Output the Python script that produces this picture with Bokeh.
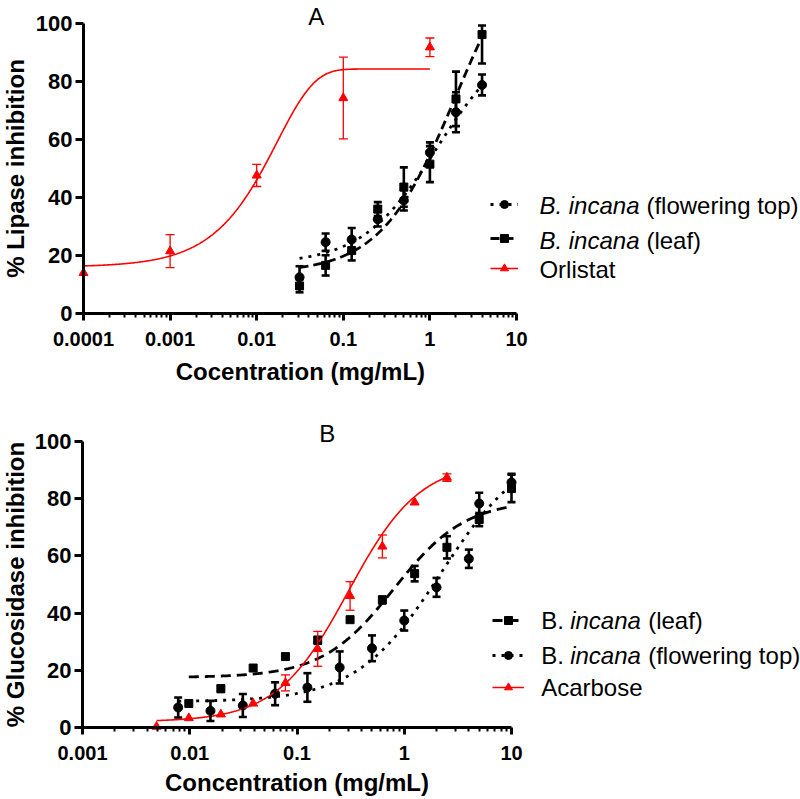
import numpy as np
from bokeh.plotting import figure
from bokeh.models import (ColumnDataSource, Whisker, TeeHead, Label, Legend, LegendItem,
                          FixedTicker, CustomJSTickFormatter, Range1d)
from bokeh.layouts import column
from bokeh.embed import file_html
from bokeh.resources import INLINE

FONT = "Liberation Sans"
RED = "#ff0000"
BLACK = "#000000"

# ---------------- shared ----------------
y_ticks = [0, 20, 40, 60, 80, 100]

# ---------------- Panel A : lipase ----------------
a_x_ticks = [0.0001, 0.001, 0.01, 0.1, 1, 10]

a_orl_x = [0.0001, 0.001, 0.01, 0.1, 1]
a_orl_y = [14.0, 21.5, 47.6, 74.3, 91.8]
a_orl_err = [0.0, 5.7, 3.8, 14.1, 3.2]

a_flw_x = [0.03125, 0.0625, 0.125, 0.25, 0.5, 1, 2, 4]
a_flw_y = [12.5, 24.6, 25.5, 32.5, 39.0, 55.5, 69.4, 78.8]
a_flw_err = [3.8, 3.0, 4.0, 2.5, 3.5, 3.5, 6.9, 3.6]

a_leaf_x = [0.03125, 0.0625, 0.125, 0.25, 0.5, 1, 2, 4]
a_leaf_y = [9.5, 16.6, 21.7, 36.0, 43.6, 51.5, 74.0, 96.2]
a_leaf_err_lo = [2.2, 3.5, 3.4, 2.4, 6.8, 6.2, 9.4, 10.0]
a_leaf_err_hi = [2.2, 3.5, 3.4, 2.4, 6.8, 6.2, 9.4, 3.1]

# fitted curves
a_orl_fit = (16.0, 84.3, 58.0)          # bottom, plateau, rate (one-phase association)
a_orl_span = (0.0001, 1.0)
a_flw_fit = (17.0, 97.0, 1.2, 1.0)      # bottom, top, EC50, Hill slope
a_flw_span = (0.03125, 4.0)
a_leaf_fit = (14.0, 136.0, 2.0, 1.0)
a_leaf_span = (0.03125, 4.0)

# ---------------- Panel B : glucosidase ----------------
b_x_ticks = [0.001, 0.01, 0.1, 1, 10]

b_leaf_x = [0.0098, 0.0195, 0.039, 0.078, 0.156, 0.3125, 0.625, 1.25, 2.5, 5, 10]
b_leaf_y = [8.4, 13.6, 20.8, 24.8, 30.5, 37.7, 44.6, 53.8, 63.0, 72.7, 83.6]
b_leaf_err = [0.0, 1.2, 0.0, 0.0, 1.2, 0.0, 1.2, 2.7, 3.9, 2.3, 4.8]

b_flw_x = [0.0078, 0.0156, 0.03125, 0.0625, 0.125, 0.25, 0.5, 1, 2, 4, 5, 10]
b_flw_y = [7.0, 5.8, 7.7, 11.8, 14.0, 21.0, 27.7, 37.4, 49.0, 59.0, 78.3, 85.7]
b_flw_err = [3.5, 3.5, 4.0, 4.0, 5.0, 5.6, 4.5, 3.5, 3.3, 3.2, 3.8, 3.0]

b_aca_x = [0.0049, 0.0098, 0.0195, 0.039, 0.078, 0.156, 0.3125, 0.625, 1.25, 2.5]
b_aca_y = [0.3, 3.3, 4.6, 8.4, 15.6, 27.5, 46.0, 63.3, 78.7, 87.4]
b_aca_err = [0.0, 0.0, 0.0, 0.0, 2.8, 6.1, 5.0, 4.0, 0.0, 1.3]

b_leaf_fit = (17.5, 79.5, 0.8, 1.3)
b_leaf_span = (0.0098, 10.0)
b_flw_fit = (9.0, 99.0, 2.2, 1.1)
b_flw_span = (0.0078, 10.0)
b_aca_fit = (2.0, 93.0, 0.30, 1.3)
b_aca_span = (0.0049, 2.5)


def hill(params, span):
    b, t, ec50, h = params
    xs = np.logspace(np.log10(span[0]), np.log10(span[1]), 400)
    return xs, b + (t - b) / (1.0 + (ec50 / xs) ** h)


def assoc(params, span):
    b, plateau, k = params
    xs = np.logspace(np.log10(span[0]), np.log10(span[1]), 400)
    return xs, b + (plateau - b) * (1.0 - np.exp(-k * xs))


def minor_list(lo_exp, hi_exp):
    return [m * 10.0 ** e for e in range(lo_exp, hi_exp) for m in range(2, 10)]


def make_fig(height, xr, yr, ticks, minors, xbounds):
    # the frame fills the whole canvas; the axes sit at fixed data locations
    p = figure(width=800, height=height, x_axis_type="log",
               x_range=Range1d(*xr), y_range=Range1d(*yr),
               output_backend="svg", toolbar_location=None,
               min_border_left=0, min_border_right=0,
               min_border_top=0, min_border_bottom=0)
    p.outline_line_color = None
    p.grid.visible = False
    p.background_fill_color = "white"
    p.border_fill_color = "white"
    for ax in (p.xaxis[0], p.yaxis[0]):
        ax.axis_line_width = 3
        ax.axis_line_color = BLACK
        ax.major_tick_line_width = 3
        ax.major_tick_line_color = BLACK
        ax.major_tick_in = 0
        ax.major_label_text_font = FONT
        ax.major_label_text_font_style = "bold"
        ax.major_label_text_color = BLACK
    xa = p.xaxis[0]
    xa.fixed_location = 0
    xa.bounds = xbounds
    xa.ticker = FixedTicker(ticks=ticks, minor_ticks=minors)
    xa.formatter = CustomJSTickFormatter(
        code="return tick >= 1 ? tick.toFixed(0) : tick.toPrecision(1);")
    xa.major_tick_out = 7
    xa.minor_tick_out = 4
    xa.minor_tick_in = 0
    xa.minor_tick_line_width = 2
    xa.minor_tick_line_color = BLACK
    xa.major_label_text_font_size = "20px"
    xa.major_label_standoff = 11
    ya = p.yaxis[0]
    ya.fixed_location = xbounds[0]
    ya.bounds = (0, 100)
    ya.ticker = FixedTicker(ticks=y_ticks, minor_ticks=[])
    ya.major_tick_out = 8
    ya.minor_tick_line_color = None
    ya.major_label_text_font_size = "22px"
    ya.major_label_standoff = 3
    return p


def add_series(p, xs, ys, lo, hi, curve, marker, size, color, dash, lw, err_w, cap):
    cx, cy = curve
    line = p.line(cx, cy, line_color=color, line_width=lw, line_dash=dash)
    keep = [i for i in range(len(xs)) if lo[i] > 0 or hi[i] > 0]
    src = ColumnDataSource(dict(x=[xs[i] for i in keep],
                                lower=[ys[i] - lo[i] for i in keep],
                                upper=[ys[i] + hi[i] for i in keep]))
    wk = Whisker(source=src, base="x", lower="lower", upper="upper", dimension="height",
                 line_color=color, line_width=err_w, level="glyph",
                 lower_head=TeeHead(size=cap, line_color=color, line_width=err_w),
                 upper_head=TeeHead(size=cap, line_color=color, line_width=err_w))
    p.add_layout(wk)
    sc = p.scatter(xs, ys, marker=marker, size=size, fill_color=color, line_color=color)
    return line, sc


def add_legend_row(p, renderers, loc, gw):
    leg = Legend(items=[LegendItem(label=" ", renderers=list(renderers))],
                 location=loc, orientation="vertical", padding=0, margin=0, spacing=0,
                 glyph_width=gw, glyph_height=20, label_standoff=0, label_width=0,
                 label_height=20, label_text_font_size="1px",
                 border_line_color=None, background_fill_alpha=0)
    p.add_layout(leg)


def txt(p, x, y, text, size="24px", style="normal", align="left", angle=0.0, xoff=0):
    p.add_layout(Label(x=x, y=y, text=text, text_font=FONT, text_font_size=size,
                       text_font_style=style, text_color=BLACK, text_align=align,
                       text_baseline="alphabetic", angle=angle, x_offset=xoff))


# ---------------- build panel A ----------------
pa = make_fig(392, (10 ** -4.9584, 10 ** 4.2794), (-27.24, 107.93),
              a_x_ticks, minor_list(-4, 1), (0.0001, 10))

fl_a = add_series(pa, a_flw_x, a_flw_y, a_flw_err, a_flw_err, hill(a_flw_fit, a_flw_span),
                  "circle", 9, BLACK, "3 6", 2.8, 2.6, 8)
lf_a = add_series(pa, a_leaf_x, a_leaf_y, a_leaf_err_lo, a_leaf_err_hi,
                  hill(a_leaf_fit, a_leaf_span), "square", 8, BLACK, "9 5", 2.8, 2.6, 8)
or_a = add_series(pa, a_orl_x, a_orl_y, a_orl_err, a_orl_err, assoc(a_orl_fit, a_orl_span),
                  "triangle", 9, RED, "solid", 1.6, 1.3, 9)

add_legend_row(pa, fl_a, (490, 178), 28)
add_legend_row(pa, lf_a, (490, 144), 28)
add_legend_row(pa, or_a, (490, 114), 28)

txt(pa, 18.4, 37.2, "B. incana", style="italic")
txt(pa, 18.4, 37.2, "(flowering top)", xoff=107)
txt(pa, 18.4, 25.3, "B. incana", style="italic")
txt(pa, 18.4, 25.3, "(leaf)", xoff=107)
txt(pa, 18.4, 15.3, "Orlistat")

txt(pa, 0.0488, 102.5, "A", align="center")
txt(pa, 0.032, -20.0, "Cocentration (mg/mL)", style="bold", align="center")
txt(pa, 1.65e-5, 50, "% Lipase inhibition", style="bold", align="center", angle=np.pi / 2)

# ---------------- build panel B ----------------
pb = make_fig(407, (10 ** -3.7646, 10 ** 3.6946), (-25.17, 117.13),
              b_x_ticks, minor_list(-3, 1), (0.001, 10))

lf_b = add_series(pb, b_leaf_x, b_leaf_y, b_leaf_err, b_leaf_err, hill(b_leaf_fit, b_leaf_span),
                  "square", 8, BLACK, "10 6", 2.8, 2.6, 8)
fl_b = add_series(pb, b_flw_x, b_flw_y, b_flw_err, b_flw_err, hill(b_flw_fit, b_flw_span),
                  "circle", 9, BLACK, "3 6", 2.8, 2.6, 8)
ac_b = add_series(pb, b_aca_x, b_aca_y, b_aca_err, b_aca_err, hill(b_aca_fit, b_aca_span),
                  "triangle", 9, RED, "solid", 1.6, 1.3, 9)

add_legend_row(pb, lf_b, (492, 169), 32)
add_legend_row(pb, fl_b, (492, 134), 32)
add_legend_row(pb, ac_b, (492, 102), 32)

txt(pb, 18.9, 37.3, "B.")
txt(pb, 18.9, 37.3, "incana", style="italic", xoff=29)
txt(pb, 18.9, 37.3, "(leaf)", xoff=107)
txt(pb, 18.9, 25.1, "B.")
txt(pb, 18.9, 25.1, "incana", style="italic", xoff=29)
txt(pb, 18.9, 25.1, "(flowering top)", xoff=107)
txt(pb, 18.9, 14.0, "Acarbose")

txt(pb, 0.191, 102.9, "B", align="center")
txt(pb, 0.1, -19.2, "Concentration (mg/mL)", style="bold", align="center")
txt(pb, 2.39e-4, 50, "% Glucosidase inhibition", style="bold", align="center", angle=np.pi / 2)

layout = column(pa, pb)
open("out.html", "w").write(file_html(layout, INLINE))
